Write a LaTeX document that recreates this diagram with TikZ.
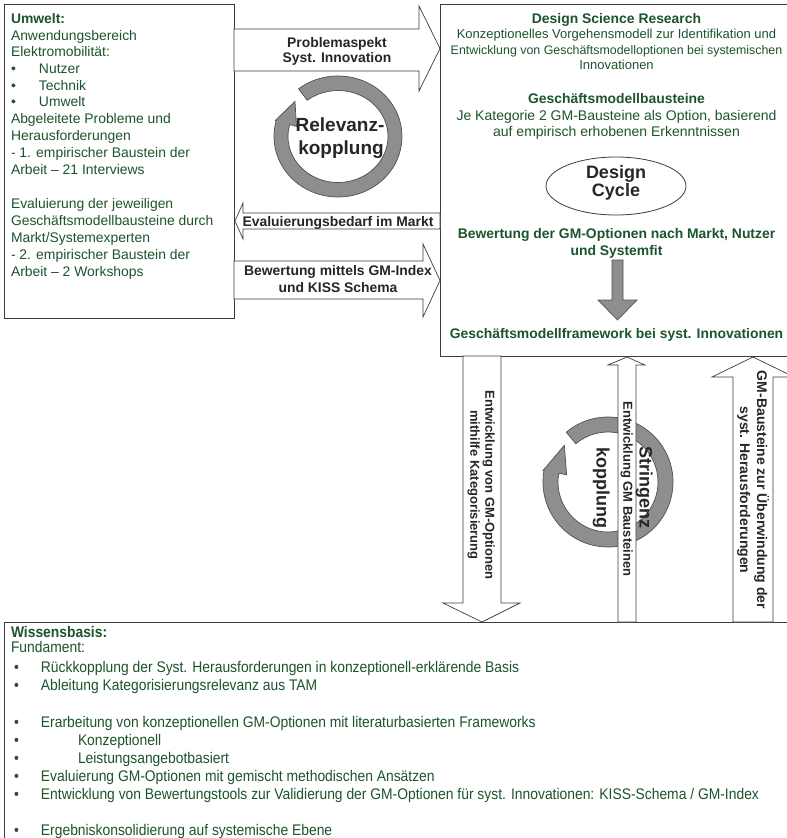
\documentclass[tikz,border=0pt]{standalone}
\usepackage{fontspec}
\setmainfont{Liberation Sans}
\newfontfamily\narrowfont[FakeStretch=0.9]{Liberation Sans}
\usetikzlibrary{shapes.geometric}
\definecolor{gtext}{RGB}{28,84,45}
\definecolor{dtext}{RGB}{38,38,38}
\definecolor{linec}{RGB}{60,60,60}
\definecolor{ringfill}{RGB}{142,142,142}
\definecolor{ringline}{RGB}{80,80,80}
\newcommand\fntA{\fontsize{13.9}{16.8}\selectfont}
\newcommand\fntB{\fontsize{13}{15}\selectfont}
\newcommand\fntBs{\fontsize{12.4}{15}\selectfont}
\newcommand\fntC{\fontsize{14}{16}\selectfont}
\newcommand\fntD{\fontsize{18}{20}\selectfont\bfseries}
\newcommand\fntDD{\fontsize{19}{21}\selectfont\bfseries}
\newcommand\fntE{\narrowfont\fontsize{15.4}{18}\selectfont}
\tikzset{
  box/.style={draw=linec, line width=0.8pt, fill=white, inner sep=0pt, anchor=north west},
  blockarrow/.style={draw=linec, line width=0.7pt, fill=white, line join=miter},
  grayarrow/.style={draw=ringline, line width=0.7pt, fill=ringfill, line join=miter},
  ringshape/.style={fill=ringfill, draw=ringline, line width=0.7pt},
  lab/.style={inner sep=0pt, outer sep=0pt, anchor=base},
  gleft/.style={lab, anchor=base west, text=gtext, font=\fntA},
  gnarrow/.style={lab, anchor=base west, text=gtext, font=\fntE},
  gmid/.style={lab, text=gtext},
  arrlab/.style={lab, text=dtext, font=\fntA\bfseries},
  vlab/.style={lab, text=dtext, rotate=-90},
}
\begin{document}
\begin{tikzpicture}[x=1pt,y=-1pt]
\useasboundingbox (0,0) rectangle (787,838);
\fill[white] (0,0) rectangle (787,838);

% boxes
\node[box, minimum width=230pt, minimum height=314pt] (umwelt) at (4,4) {};
\node[box, minimum width=354pt, minimum height=352pt] (dsr) at (440,4) {};
\node[box, minimum width=790pt, minimum height=240pt] (wissen) at (4,622) {};

% relevance ring (angles in visual orientation, explicit units)
\begin{scope}[shift={(338,136.5)}]
\path[ringshape] (128:64pt and 60.5pt) arc[start angle=128, end angle=-195, x radius=64pt, y radius=60.5pt]
  -- (-195:65pt and 61.5pt) -- (-221:57pt and 53.5pt) -- (-195:43pt and 39pt) -- (-195:50pt and 46pt)
  arc[start angle=-195, end angle=128, x radius=50pt, y radius=46pt] -- cycle;
\end{scope}

% rigor ring
\begin{scope}[shift={(608,482)}]
\path[ringshape] (130:65pt) arc[start angle=130, end angle=-190, radius=65pt]
  -- (-190:66pt) -- (-220:57pt) -- (-190:42pt) -- (-190:50pt)
  arc[start angle=-190, end angle=130, radius=50pt] -- cycle;
\end{scope}

% horizontal block arrows
\draw[blockarrow] (234,29) -- (419,29) -- (419,6) -- (440,48.5) -- (419,91) -- (419,71) -- (234,71) -- cycle;
\draw[blockarrow] (440,213) -- (243,213) -- (243,203) -- (235,221) -- (243,239) -- (243,229) -- (440,229) -- cycle;
\draw[blockarrow] (234,261) -- (423,261) -- (423,244) -- (440,280.5) -- (423,317) -- (423,299) -- (234,299) -- cycle;

% vertical block arrows
\draw[blockarrow] (463,356) -- (501,356) -- (501,603) -- (520,603) -- (482,622) -- (443,603) -- (463,603) -- cycle;
\draw[blockarrow] (618,622) -- (618,365) -- (608,365) -- (627,357) -- (645,365) -- (636,365) -- (636,622) -- cycle;
\draw[blockarrow] (733,622) -- (733,377) -- (712,377) -- (753,357) -- (794,377) -- (773,377) -- (773,622) -- cycle;

% design cycle
\node[ellipse, draw=linec, line width=0.8pt, fill=white, minimum width=140pt, minimum height=58pt, inner sep=0pt] (dc) at (616,186) {};
\draw[grayarrow] (612,260) -- (623,260) -- (623,300) -- (637,300) -- (617.5,320) -- (598,300) -- (612,300) -- cycle;

% left box text
\foreach \yy/\ltxt [count=\i] in {
  23/{\textbf{Umwelt:}},
  40/{Anwendungsbereich},
  56/{Elektromobilität:},
  73/{\makebox[28pt][l]{•}Nutzer},
  90/{\makebox[28pt][l]{•}Technik},
  106/{\makebox[28pt][l]{•}Umwelt},
  123/{Abgeleitete Probleme und},
  140/{Herausforderungen},
  157/{- 1. empirischer Baustein der},
  174/{Arbeit – 21 Interviews},
  208/{Evaluierung der jeweiligen},
  225/{Geschäftsmodellbausteine durch},
  242/{Markt/Systemexperten},
  259/{- 2. empirischer Baustein der},
  276/{Arbeit – 2 Workshops}}
  \node[gleft] (u\i) at (11,\yy) {\ltxt};

% bottom box text
\node[gnarrow] (w1) at (11,637.5) {\textbf{Wissensbasis:}};
\node[gnarrow] (w2) at (11,652.5) {Fundament:};
\foreach \yy/\ltxt [count=\i] in {
  672/{Rückkopplung der Syst. Herausforderungen in konzeptionell-erklärende Basis},
  690/{Ableitung Kategorisierungsrelevanz aus TAM},
  727/{Erarbeitung von konzeptionellen GM-Optionen mit literaturbasierten Frameworks},
  781/{Evaluierung GM-Optionen mit gemischt methodischen Ansätzen},
  799/{Entwicklung von Bewertungstools zur Validierung der GM-Optionen für syst. Innovationen: KISS-Schema / GM-Index},
  835/{Ergebniskonsolidierung auf systemische Ebene}}
  \node[gnarrow] (wb\i) at (14,\yy) {\makebox[27pt][l]{•}\ltxt};
\node[gnarrow] (ws1) at (14,745) {\makebox[64pt][l]{•}Konzeptionell};
\node[gnarrow] (ws2) at (14,763) {\makebox[64pt][l]{•}Leistungsangebotbasiert};

% right box text
\node[gmid, font=\fntA\bfseries] (r1) at (616.5,23) {Design Science Research};
\node[gmid, font=\fntB] (r2) at (616.5,38.7) {Konzeptionelles Vorgehensmodell zur Identifikation und};
\node[gmid, font=\fntBs] (r3) at (616.5,54.7) {Entwicklung von Geschäftsmodelloptionen bei systemischen};
\node[gmid, font=\fntB] (r4) at (616.5,69.7) {Innovationen};
\node[gmid, font=\fntA\bfseries] (r5) at (616.5,103) {Geschäftsmodellbausteine};
\node[gmid, font=\fntC] (r6) at (616.5,120) {Je Kategorie 2 GM-Bausteine als Option, basierend};
\node[gmid, font=\fntC] (r7) at (616.5,136) {auf empirisch erhobenen Erkenntnissen};
\node[lab, text=dtext, font=\fntD] (dc1) at (616,178) {Design};
\node[lab, text=dtext, font=\fntD] (dc2) at (616,196) {Cycle};
\node[gmid, font=\fntA\bfseries] (r8) at (616.5,238) {Bewertung der GM-Optionen nach Markt, Nutzer};
\node[gmid, font=\fntA\bfseries] (r9) at (616.5,255) {und Systemfit};
\node[gmid, font=\fntA\bfseries] (r10) at (616.5,338) {Geschäftsmodellframework bei syst. Innovationen};

% arrow labels
\node[arrlab] (a1) at (337,47) {Problemaspekt};
\node[arrlab] (a2) at (337,62) {Syst. Innovation};
\node[arrlab] (a3) at (338,226) {Evaluierungsbedarf im Markt};
\node[arrlab] (a4) at (338,275) {Bewertung mittels GM-Index};
\node[arrlab] (a5) at (338,292) {und KISS Schema};
\node[lab, text=dtext, font=\fntDD] (rel1) at (340,131.5) {Relevanz-};
\node[lab, text=dtext, font=\fntDD] (rel2) at (341,154) {kopplung};

% vertical labels
\node[vlab, font=\fntB\bfseries] (v1) at (485.3,485) {Entwicklung von GM-Optionen};
\node[vlab, font=\fntB\bfseries] (v2) at (470.3,485) {mithilfe Kategorisierung};
\node[vlab, font=\fntB\bfseries] (v3) at (623.3,489) {Entwicklung GM Bausteinen};
\node[vlab, font=\fntC\bfseries] (v4) at (757,490) {GM-Bausteine zur Überwindung der};
\node[vlab, font=\fntC\bfseries] (v5) at (740,490) {syst. Herausforderungen};
\node[vlab, font=\fntD] (s1) at (639.5,487.5) {Stringenz};
\node[vlab, font=\fntD] (s2) at (596.5,487.5) {kopplung};
\end{tikzpicture}
\end{document}
